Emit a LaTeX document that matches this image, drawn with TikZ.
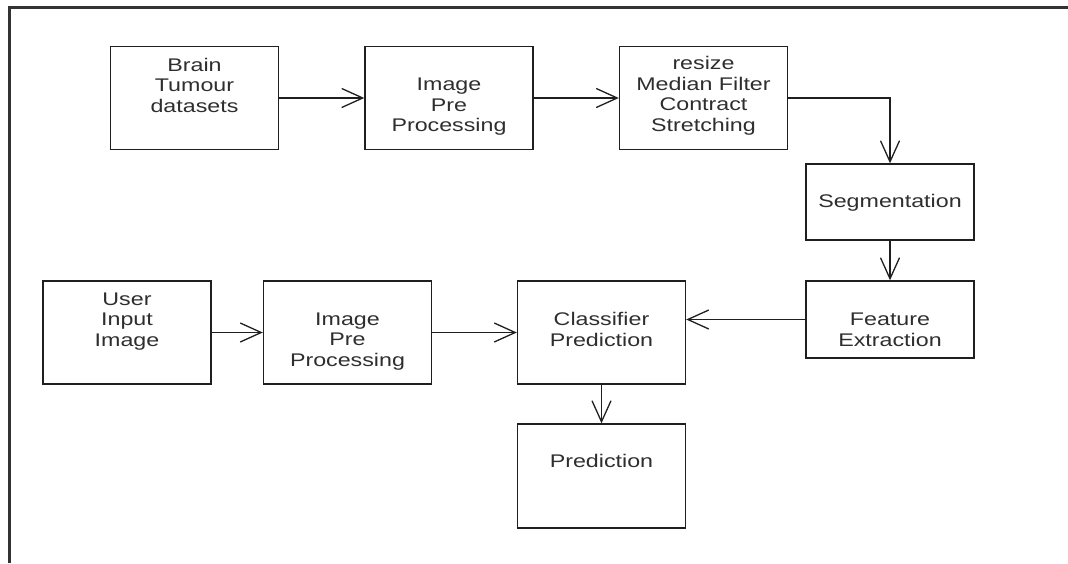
\documentclass[tikz,border=0pt]{standalone}
\usepackage{fontspec}
\setmainfont{Liberation Sans}
\usetikzlibrary{arrows.meta}
\begin{document}
\begin{tikzpicture}[x=1pt,y=-1pt,
  blk/.style={draw=black!88, line width=1.4pt, rectangle, inner sep=0pt,
              minimum width=168pt, minimum height=#1},
  blk/.default=103pt,
  lbl/.style={anchor=north, inner sep=0pt, align=center, text=black!82,
              font=\fontsize{18.3}{20.5}\selectfont, transform shape, xscale=1.27},
  flow/.style={draw=black!88, line width=1.3pt,
               -{Straight Barb[length=21pt, width=19pt, line width=1.3pt]}}]
\useasboundingbox (0,0) rectangle (1068,563);

% page frame (top and left edges)
\draw[black!80, line width=2.6pt] (1068,7.5) -- (9.5,7.5) -- (9.5,563);

% training branch
\node[blk] (brain) at (194.5,98) {};
\node[blk] (prep1) at (449,98) {};
\node[blk] (resz) at (703.5,98) {};
\node[blk=76pt] (seg) at (890,202) {};
\node[blk=77pt] (feat) at (890,319.5) {};

% testing branch
\node[blk] (user) at (127,332.5) {};
\node[blk] (prep2) at (347.5,332.5) {};
\node[blk] (cls) at (601.5,332.5) {};
\node[blk=104pt] (pred) at (601.5,476) {};

% box texts
\node[lbl] (brain-t) at (194.5,58) {Brain\\Tumour\\datasets};
\node[lbl] (prep1-t) at (449,78) {Image\\Pre\\Processing};
\node[lbl] (resz-t) at (703.5,56.5) {resize\\Median Filter\\Contract\\Stretching};
\node[lbl] (seg-t) at (890,194.5) {Segmentation};
\node[lbl] (feat-t) at (890,313) {Feature\\Extraction};
\node[lbl] (user-t) at (127,292.5) {User\\Input\\Image};
\node[lbl] (prep2-t) at (347.5,312.5) {Image\\Pre\\Processing};
\node[lbl] (cls-t) at (601.5,312.5) {Classifier\\Prediction};
\node[lbl] (pred-t) at (601.5,454.5) {Prediction};

% connectors
\draw[flow] (brain) -- (prep1);
\draw[flow] (prep1) -- (resz);
\draw[flow] (resz.east) -| (seg.north);
\draw[flow] (seg) -- (feat);
\draw[flow] (feat.west) -- (feat.west -| cls.east);
\draw[flow] (user) -- (prep2);
\draw[flow] (prep2) -- (cls);
\draw[flow] (cls) -- (pred);
\end{tikzpicture}
\end{document}
